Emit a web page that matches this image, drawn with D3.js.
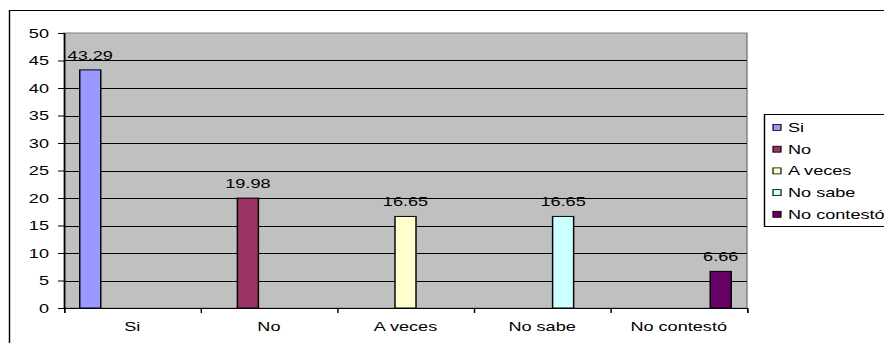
<!DOCTYPE html>
<html>
<head>
<meta charset="utf-8">
<script src="https://cdn.jsdelivr.net/npm/d3@7/dist/d3.min.js"></script>
<style>
  html, body { margin: 0; padding: 0; background: #fff; overflow: hidden; }
  svg { display: block; }
  text { font-family: "Liberation Sans", Arial, sans-serif; fill: #000; }
</style>
</head>
<body>
<svg id="chart"></svg>
<script>
// Responses to the survey question, in percent
const categories = ["Si", "No", "A veces", "No sabe", "No contestó"];
const seriesNames = ["Si", "No", "A veces", "No sabe", "No contestó"];
const values = [43.29, 19.98, 16.65, 16.65, 6.66];
const seriesColors = ["#9999FF", "#993366", "#FFFFCC", "#CCFFFF", "#660066"];
const yTicks = [0, 5, 10, 15, 20, 25, 30, 35, 40, 45, 50];

const W = 884, H = 343;
const K = 1.45;               // horizontal stretch of the drawing
const vx = px => px / K;      // page x -> drawing units

const svg = d3.select("#chart")
  .attr("width", W).attr("height", H)
  .attr("viewBox", `0 0 ${W / K} ${H}`)
  .attr("preserveAspectRatio", "none");

const FONT = 12.5;

// chart frame
svg.append("rect")
  .attr("x", vx(9.5)).attr("y", 10.5)
  .attr("width", vx(1000)).attr("height", 500)
  .attr("fill", "#fff").attr("stroke", "#000").attr("stroke-width", 1);

const plot = { left: 64, right: 747, top: 33, bottom: 308 };

const y = d3.scaleLinear().domain([0, 50]).range([plot.bottom, plot.top]);
const x = d3.scaleBand().domain(categories).range([vx(plot.left), vx(plot.right)])
  .paddingInner(0).paddingOuter(0);
const xs = d3.scaleBand().domain(seriesNames).range([0, x.bandwidth()])
  .paddingInner(0).paddingOuter(0.75);

// plot area
svg.append("rect")
  .attr("x", vx(plot.left)).attr("y", y(50))
  .attr("width", vx(plot.right) - vx(plot.left)).attr("height", y(0) - y(50))
  .attr("fill", "#c0c0c0").attr("stroke", "#808080").attr("stroke-width", 1);

// horizontal gridlines
svg.append("g").selectAll("line")
  .data(yTicks.filter(t => t > 0 && t < 50))
  .join("line")
  .attr("x1", vx(plot.left)).attr("x2", vx(plot.right))
  .attr("y1", d => Math.round(y(d)) + 0.5).attr("y2", d => Math.round(y(d)) + 0.5)
  .attr("stroke", "#000").attr("stroke-width", 1);

// bars: each series holds one answer
const bars = svg.append("g");
values.forEach((v, i) => {
  const cx = x(categories[i]) + xs(seriesNames[i]);
  bars.append("rect")
    .attr("x", cx).attr("y", y(v))
    .attr("width", xs.bandwidth()).attr("height", y(0) - y(v))
    .attr("fill", seriesColors[i]).attr("stroke", "#000").attr("stroke-width", 1);
  bars.append("text")
    .attr("x", cx + xs.bandwidth() / 2).attr("y", y(v) - 10)
    .attr("text-anchor", "middle").attr("font-size", FONT)
    .text(v.toFixed(2));
});

// y axis
const yAxis = svg.append("g")
  .attr("transform", `translate(${vx(plot.left)},0)`)
  .call(d3.axisLeft(y).tickValues(yTicks).tickSize(vx(6)).tickPadding(vx(9)).tickFormat(d3.format("d")));
yAxis.select(".domain").attr("stroke", "#000");
yAxis.selectAll(".tick line").attr("stroke", "#000");
yAxis.selectAll(".tick text").attr("font-size", FONT).attr("font-family", null).attr("fill", "#000");

// x axis: tick marks between categories, labels centred under each
const xi = d3.scaleLinear().domain([0, categories.length]).range([vx(plot.left), vx(plot.right)]);
const xAxis = svg.append("g")
  .attr("transform", `translate(0,${plot.bottom})`)
  .call(d3.axisBottom(xi).tickValues(d3.range(categories.length + 1)).tickSize(5).tickFormat(""));
xAxis.select(".domain").attr("stroke", "#000");
xAxis.selectAll(".tick line").attr("stroke", "#000");

svg.append("g").selectAll("text")
  .data(categories)
  .join("text")
  .attr("x", d => x(d) + x.bandwidth() / 2)
  .attr("y", 331)
  .attr("text-anchor", "middle").attr("font-size", FONT)
  .text(d => d);

// legend
const legend = svg.append("g");
legend.append("rect")
  .attr("x", vx(764.5)).attr("y", 114.5)
  .attr("width", vx(300)).attr("height", 112)
  .attr("fill", "#fff").attr("stroke", "#000").attr("stroke-width", 1);
seriesNames.forEach((name, i) => {
  const cy = 127.5 + i * 21.7;
  legend.append("rect")
    .attr("x", vx(773)).attr("y", cy - 3)
    .attr("width", vx(8)).attr("height", 6)
    .attr("fill", seriesColors[i]).attr("stroke", "#000").attr("stroke-width", 0.8);
  legend.append("text")
    .attr("x", vx(788)).attr("y", cy).attr("dy", "0.35em")
    .attr("font-size", FONT)
    .text(name);
});
</script>
</body>
</html>
